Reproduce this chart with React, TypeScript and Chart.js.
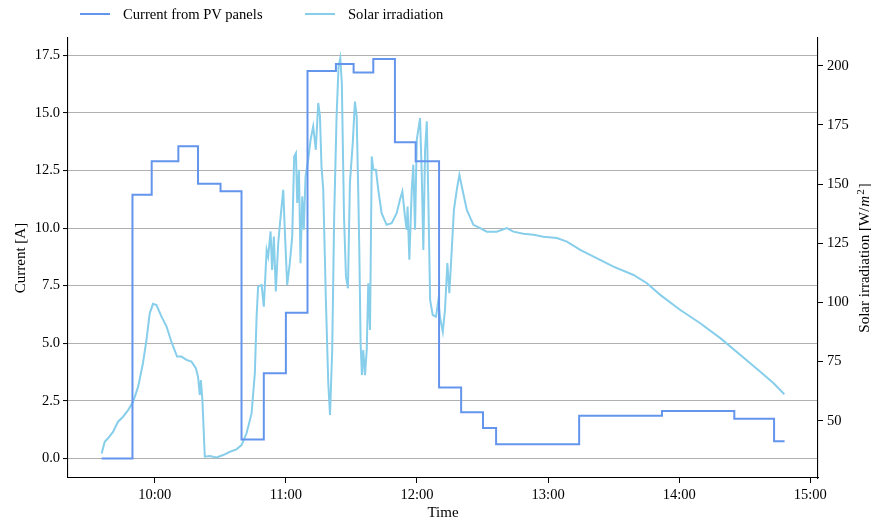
import { useEffect, useRef } from "react";
import { Chart, registerables } from "chart.js";

Chart.register(...registerables);

// ---- data (time in minutes since midnight) ----
const currentTimes = [575.7, 589.8, 598.6, 610.8, 619.8, 630.1, 639.7, 649.9, 660.0, 669.9, 682.9, 691.0, 700.0, 709.9, 719.4, 730.1, 740.2, 750.2, 756.2, 794.2, 832.1, 865.2, 883.4, 888.2];
const currentValues = [0, 11.45, 12.9, 13.55, 11.92, 11.6, 0.82, 3.7, 6.32, 16.82, 17.12, 16.75, 17.34, 13.73, 12.9, 3.08, 2.0, 1.32, 0.61, 1.85, 2.06, 1.72, 0.74, 0.74];

const irrTimes = [
  575.7, 577.1, 578.6, 580.9, 583.2, 585.5, 587.8, 590.1, 592.4, 594.6,
  596.2, 597.7, 599.2, 600.8, 603.1, 605.4, 607.6, 610.2, 612.2, 614.5,
  616.8, 618.8, 619.8, 620.6, 621.1, 621.8, 622.9, 625.2, 628.3, 631.3,
  634.4, 637.4, 639.7, 642.0, 644.3, 645.8, 646.6, 647.3, 648.9, 649.9,
  651.2, 651.9, 653.0, 653.7, 654.5, 655.4, 656.5, 657.6, 658.8, 659.5,
  660.6, 661.8, 662.9, 663.8, 664.6, 665.2, 666.0, 666.7, 667.5, 668.2,
  669.0, 670.2, 671.3, 672.5, 673.7, 674.8, 675.6, 676.3, 677.1, 678.3,
  679.4, 680.2, 681.2, 682.1, 683.2, 684.1, 684.9, 685.6, 686.6, 687.5,
  688.4, 689.3, 690.6, 691.6, 692.4, 693.1, 693.6, 694.2, 694.8, 695.4,
  696.2, 697.0, 697.7, 698.5, 699.3, 700.0, 701.2, 702.3, 703.8, 706.1,
  708.4, 710.7, 712.2, 713.3, 714.5, 715.3, 715.7, 716.5, 717.6, 718.3,
  719.1, 719.9, 720.6, 721.4, 722.2, 722.9, 723.7, 724.5, 725.2, 726.0,
  727.2, 728.7, 729.8, 730.5, 731.8, 732.8, 733.9, 734.8, 735.9, 736.9,
  738.2, 739.4, 740.5, 742.8, 745.8, 748.9, 751.9, 756.5, 761.1, 764.1,
  768.7, 773.3, 777.8, 784.0, 788.6, 794.7, 800.8, 809.9, 819.1, 825.2,
  831.3, 840.5, 849.6, 858.8, 868.0, 877.1, 883.2, 888.1,
];
const irrValues = [
  36.2, 41.1, 42.6, 45.3, 49.6, 51.7, 54.5, 58.0, 64.4, 74.3,
  84.1, 95.4, 99.4, 98.9, 94.0, 89.8, 83.4, 77.1, 77.1, 75.7,
  75.0, 72.2, 68.6, 60.9, 67.2, 58.8, 34.8, 35.1, 34.5, 35.5,
  36.9, 37.9, 39.7, 44.7, 53.1, 70.1, 94.0, 106.7, 107.4, 98.2,
  122.2, 119.4, 130.0, 113.7, 127.8, 104.6, 125.0, 136.3, 147.6, 130.7,
  107.4, 116.6, 127.8, 161.7, 163.1, 142.0, 156.0, 116.6, 144.8, 130.7,
  153.2, 160.3, 168.7, 174.4, 164.5, 184.3, 178.6, 157.4, 147.6, 101.1,
  65.8, 52.4, 79.9, 136.3, 178.6, 199.7, 203.3, 192.7, 136.3, 110.9,
  106.0, 150.4, 167.3, 184.9, 178.6, 147.6, 122.2, 82.7, 69.3, 79.9,
  69.3, 79.9, 108.1, 88.4, 161.7, 156.1, 156.1, 147.6, 137.7, 132.8,
  133.5, 137.7, 143.4, 146.9, 136.3, 130.7, 140.5, 118.0, 147.6, 158.2,
  130.7, 168.7, 173.0, 177.9, 153.2, 122.2, 164.5, 176.5, 143.4, 101.1,
  94.7, 94.0, 101.1, 94.0, 87.6, 96.8, 116.6, 103.9, 122.2, 139.1,
  147.6, 153.9, 149.0, 139.1, 132.8, 131.4, 129.9, 129.9, 131.4, 129.9,
  129.0, 128.6, 127.8, 127.2, 125.7, 122.2, 119.4, 115.1, 111.6, 108.1,
  103.2, 96.8, 91.2, 84.9, 77.8, 70.7, 65.8, 61.2,
];

const xTickValues = [600, 660, 720, 780, 840, 900];
const xTickLabels = ["10:00", "11:00", "12:00", "13:00", "14:00", "15:00"];
const currentTickValues = [0, 2.5, 5, 7.5, 10, 12.5, 15, 17.5];
const currentTickLabels = ["0.0", "2.5", "5.0", "7.5", "10.0", "12.5", "15.0", "17.5"];
const irrTickValues = [50, 75, 100, 125, 150, 175, 200];
const irrTickLabels = ["50", "75", "100", "125", "150", "175", "200"];

const seriesLabels = ["Current from PV panels", "Solar irradiation"];
const seriesColors = ["#6495ED", "#87CEEB"];

const FONT = "'Liberation Serif', 'Times New Roman', serif";
const FS = 14.5;
const TITLE_FS = 15;

const rightTitlePlugin = {
  id: "rightTitle",
  afterDraw(chart: any) {
    const { ctx, chartArea } = chart;
    const cy = (chartArea.top + chartArea.bottom) / 2;
    const cx = 864;
    const parts = [
      { t: "Solar irradiation [W/", f: `${TITLE_FS}px ${FONT}`, dy: 0 },
      { t: "m", f: `italic ${TITLE_FS}px ${FONT}`, dy: 0 },
      { t: "2", f: `${Math.round(TITLE_FS * 0.7)}px ${FONT}`, dy: -5.5 },
      { t: "]", f: `${TITLE_FS}px ${FONT}`, dy: 0 },
    ];
    ctx.save();
    ctx.translate(cx, cy);
    ctx.rotate(-Math.PI / 2);
    ctx.fillStyle = "#000";
    ctx.textBaseline = "alphabetic";
    ctx.textAlign = "left";
    const gaps = [0, 1, 1, 1];
    let total = 0;
    const widths = parts.map((p, i) => {
      ctx.font = p.f;
      const w = ctx.measureText(p.t).width + gaps[i];
      total += w;
      return w;
    });
    let x = -total / 2;
    parts.forEach((p, i) => {
      ctx.font = p.f;
      ctx.fillText(p.t, x + gaps[i], 5 + p.dy);
      x += widths[i];
    });
    ctx.restore();
  },
};

function lookup(values: number[], labels: string[], v: number) {
  const i = values.findIndex((x) => Math.abs(x - v) < 1e-6);
  return i >= 0 ? labels[i] : "";
}

export default function App() {
  const ref = useRef<HTMLCanvasElement | null>(null);

  useEffect(() => {
    document.body.style.margin = "0";
    const canvas = ref.current;
    if (!canvas) return;
    const font = { family: FONT, size: FS };
    const chart = new Chart(canvas, {
      type: "line",
      data: {
        datasets: [
          {
            label: seriesLabels[0],
            data: currentTimes.map((t, i) => ({ x: t, y: currentValues[i] })),
            yAxisID: "y",
            stepped: "before",
            borderColor: seriesColors[0],
            backgroundColor: seriesColors[0],
            borderWidth: 2,
            pointRadius: 0,
            fill: false,
          },
          {
            label: seriesLabels[1],
            data: irrTimes.map((t, i) => ({ x: t, y: irrValues[i] })),
            yAxisID: "y1",
            borderColor: seriesColors[1],
            backgroundColor: seriesColors[1],
            borderWidth: 2,
            pointRadius: 0,
            tension: 0,
            fill: false,
          },
        ],
      },
      options: {
        animation: false,
        responsive: false,
        maintainAspectRatio: false,
        devicePixelRatio: 1,
        layout: { padding: { top: 38, left: 0, right: 0, bottom: 0 } },
        plugins: { legend: { display: false }, tooltip: { enabled: false } },
        scales: {
          x: {
            type: "linear",
            min: 560.3,
            max: 903.5,
            afterBuildTicks: (s: any) => {
              s.ticks = xTickValues.map((v) => ({ value: v }));
            },
            afterFit: (s: any) => {
              s.height = 43;
            },
            ticks: {
              callback: (v: any) => lookup(xTickValues, xTickLabels, Number(v)),
              font,
              color: "#000",
              padding: 3,
              maxRotation: 0,
              autoSkip: false,
            },
            grid: { drawOnChartArea: false, tickLength: 5, tickColor: "#000", tickWidth: 1 },
            border: { color: "#000", width: 1.1 },
            title: { display: true, text: "Time", font: { family: FONT, size: TITLE_FS, lineHeight: 1 }, color: "#000", padding: { top: 0, bottom: 0 } },
          },
          y: {
            type: "linear",
            position: "left",
            min: -0.85,
            max: 18.25,
            afterBuildTicks: (s: any) => {
              s.ticks = currentTickValues.map((v) => ({ value: v }));
            },
            afterFit: (s: any) => {
              s.width = 68;
            },
            ticks: {
              callback: (v: any) => lookup(currentTickValues, currentTickLabels, Number(v)),
              font,
              color: "#000",
              padding: 3,
              autoSkip: false,
            },
            grid: { color: "#b0b0b0", lineWidth: 1.1, tickLength: 5, tickColor: "#000", tickWidth: 1 },
            border: { color: "#000", width: 1.1 },
            title: { display: true, text: "Current [A]", font: { family: FONT, size: TITLE_FS, lineHeight: 1.2 }, color: "#000", padding: { top: 12, bottom: 0 } },
          },
          y1: {
            type: "linear",
            position: "right",
            min: 25.8,
            max: 211.75,
            afterBuildTicks: (s: any) => {
              s.ticks = irrTickValues.map((v) => ({ value: v }));
            },
            afterFit: (s: any) => {
              s.width = 53;
            },
            ticks: {
              callback: (v: any) => lookup(irrTickValues, irrTickLabels, Number(v)),
              font,
              color: "#000",
              padding: 4,
              autoSkip: false,
            },
            grid: { drawOnChartArea: false, tickLength: 5, tickColor: "#000", tickWidth: 1 },
            border: { color: "#000", width: 1.1 },
            title: { display: false },
          },
        },
      },
      plugins: [rightTitlePlugin],
    } as any);
    return () => chart.destroy();
  }, []);

  const legendItems = [
    { x: 80, textX: 123 },
    { x: 305, textX: 348 },
  ];

  return (
    <div style={{ position: "relative", width: 871, height: 521, background: "#fff", fontFamily: FONT }}>
      <canvas ref={ref} width={871} height={521} style={{ display: "block", width: 871, height: 521 }} />
      {legendItems.map((it, i) => (
        <div key={i}>
          <div
            style={{
              position: "absolute",
              left: it.x,
              top: 13,
              width: 30,
              height: 2,
              background: seriesColors[i],
            }}
          />
          <div
            style={{
              position: "absolute",
              left: it.textX,
              top: 5,
              fontSize: 14.6,
              lineHeight: "18px",
              color: "#000",
              whiteSpace: "nowrap",
            }}
          >
            {seriesLabels[i]}
          </div>
        </div>
      ))}
    </div>
  );
}
